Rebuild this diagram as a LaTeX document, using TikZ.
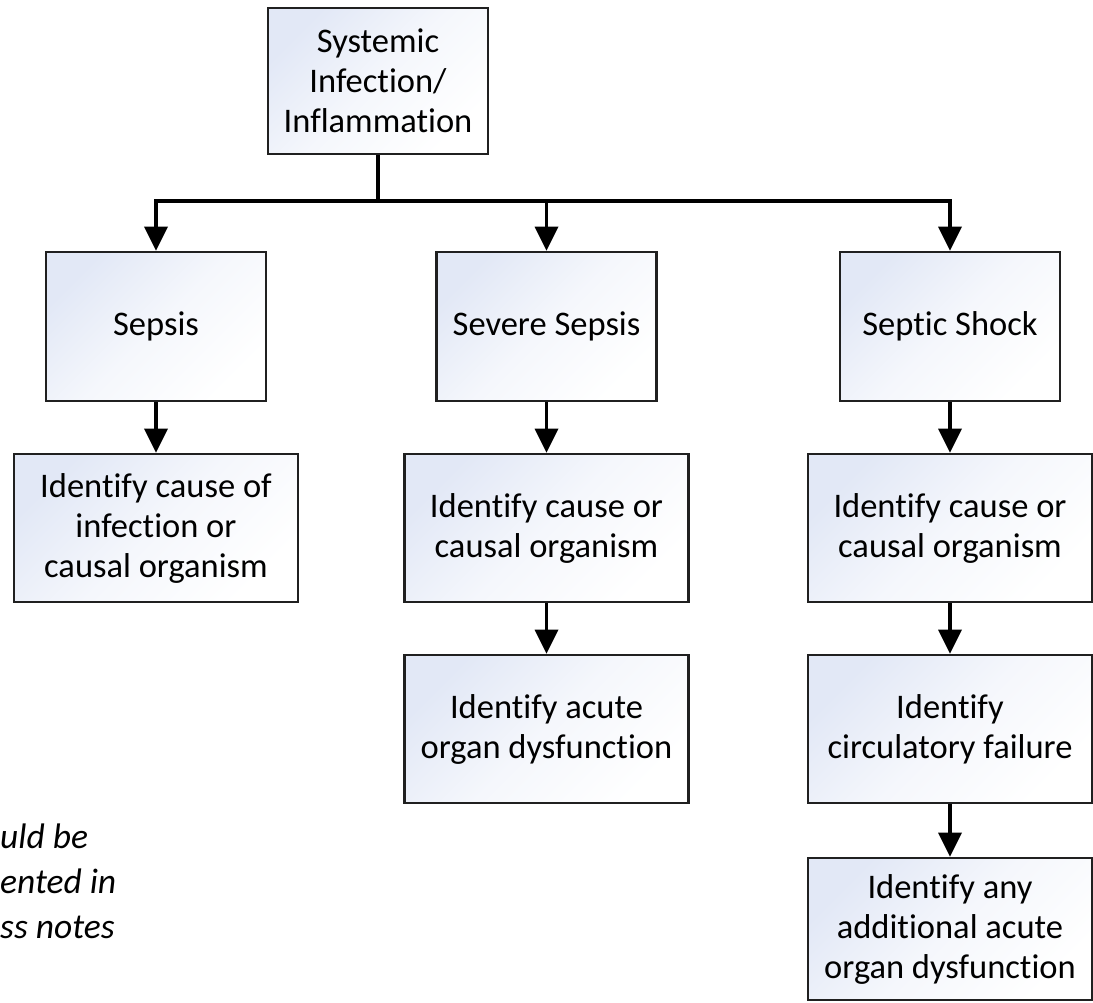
\documentclass[tikz,border=0pt]{standalone}
\usepackage{fontspec}
\setmainfont{Carlito}[Ligatures=NoCommon]
\usetikzlibrary{arrows.meta}
\definecolor{boxblue}{RGB}{226,232,246}
\definecolor{boxedge}{RGB}{32,32,32}
\begin{document}
\begin{tikzpicture}[x=1pt,y=-1pt,
  box/.style={draw=boxedge, line width=2.6pt, top color=boxblue, bottom color=white,
    middle color=boxblue!35!white, shading angle=45,
    align=center, inner sep=0pt, font=\fontsize{34.5}{40}\selectfont, text=black},
  topbox/.style={box, minimum width=220pt, minimum height=146pt},
  midbox/.style={box, minimum width=220pt, minimum height=149pt},
  lowbox/.style={box, minimum width=284pt, minimum height=148pt},
  conn/.style={line width=3.6pt, draw=black, -{Triangle[length=24pt,width=23pt]}},
  note/.style={font=\fontsize{35.5}{45}\selectfont\itshape, anchor=base west, inner sep=0pt}
]
\useasboundingbox (0,0) rectangle (1093,1002);

\node[topbox] (A) at (378,81) {Systemic\\Infection/\\Inflammation};

\node[midbox] (B1) at (156,326.5) {Sepsis};
\node[midbox] (B2) at (546.5,326.5) {Severe Sepsis};
\node[midbox] (B3) at (950,326.5) {Septic Shock};

\node[lowbox] (C1) at (156,528) {Identify cause of\\infection or\\causal organism};
\node[lowbox] (C2) at (546.5,528) {Identify cause or\\causal organism};
\node[lowbox] (C3) at (950,528) {Identify cause or\\causal organism};

\node[lowbox] (D2) at (546.5,729) {Identify acute\\organ dysfunction};
\node[lowbox] (D3) at (950,729) {Identify\\circulatory failure};

\node[lowbox, minimum height=142pt] (E3) at (950,929) {Identify any\\additional acute\\organ dysfunction};

\coordinate (bus) at (378,201);
\draw[conn] (A.south) -- (A.south |- bus) -| (B1.north);
\draw[conn] (A.south) -- (A.south |- bus) -| (B2.north);
\draw[conn] (A.south) -- (A.south |- bus) -| (B3.north);

\draw[conn] (B1.south) -- (C1.north);
\draw[conn] (B2.south) -- (C2.north);
\draw[conn] (B3.south) -- (C3.north);
\draw[conn] (C2.south) -- (D2.north);
\draw[conn] (C3.south) -- (D3.north);
\draw[conn] (D3.south) -- (E3.north);

\node[note] (n1) at (0,848) {uld be};
\node[note] (n2) at (0,893) {ented in};
\node[note] (n3) at (0,938) {ss notes};
\end{tikzpicture}
\end{document}
